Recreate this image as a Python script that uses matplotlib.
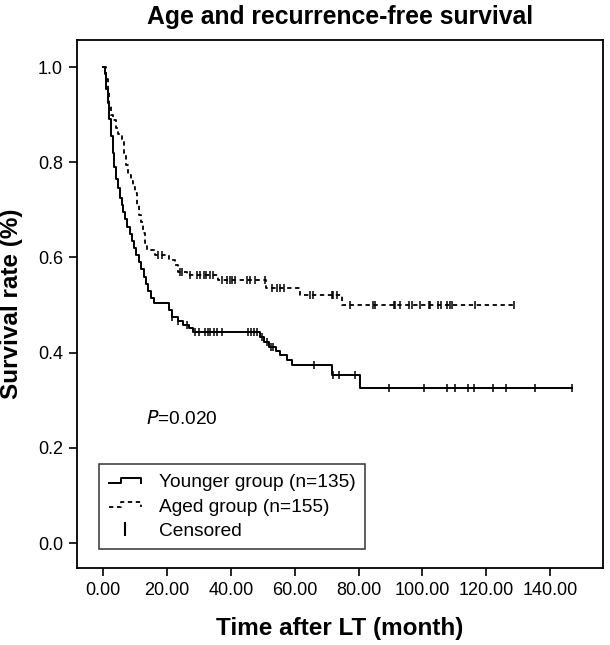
import numpy as np
import matplotlib
matplotlib.use("Agg")
import matplotlib.pyplot as plt
from matplotlib.lines import Line2D
from matplotlib.legend_handler import HandlerBase
from matplotlib.ticker import FormatStrFormatter

plt.rcParams['font.family'] = ['Liberation Sans', 'DejaVu Sans']

# Younger group (n=135): step times and survival after each step
young_t = [0, 0.5, 1.0, 1.5, 2.0, 2.5, 3.0, 3.5, 4.0, 4.6, 5.2, 5.8, 6.4, 7.0,
           7.6, 8.3, 9.0, 9.7, 10.4, 11.2, 12.0, 12.7, 13.4, 14.2, 15.0, 15.8,
           20.5, 21.5, 23.5, 25.0, 27.0, 28.3, 49.0, 50.5, 51.8, 54.0, 55.4,
           57.5, 59.1, 71.6, 80.5]
young_s = [1.0, 0.985, 0.955, 0.925, 0.89, 0.855, 0.82, 0.79, 0.765, 0.745,
           0.725, 0.71, 0.695, 0.68, 0.665, 0.65, 0.635, 0.62, 0.605, 0.59,
           0.575, 0.56, 0.545, 0.53, 0.515, 0.504, 0.489, 0.475, 0.467, 0.458,
           0.451, 0.444, 0.433, 0.422, 0.412, 0.404, 0.395, 0.385, 0.374,
           0.353, 0.325]
young_end = 146.8
young_cens = [21.5, 23.6, 26.2, 28.8, 29.9, 31.9, 32.7, 33.5, 34.8, 35.6, 37.2,
              45.5, 46.2, 47.3, 48.1, 49.7, 51.3, 52.5, 53.1, 65.9, 71.9, 74.0,
              78.9, 89.4, 100.4, 107.6, 110.2, 114.1, 116.0, 122.0, 126.2,
              135.1, 146.8]

# Aged group (n=155)
aged_t = [0, 0.8, 1.5, 2.0, 2.5, 3.2, 4.0, 4.8, 5.8, 6.5, 7.2, 7.9, 8.7, 9.5,
          10.0, 10.7, 11.3, 12.0, 12.6, 13.1, 13.7, 16.3, 20.5, 22.5, 23.6,
          26.2, 36.1, 50.9, 61.7, 74.7]
aged_s = [1.0, 0.975, 0.95, 0.92, 0.9, 0.889, 0.873, 0.86, 0.845, 0.82, 0.795,
          0.773, 0.76, 0.748, 0.735, 0.71, 0.69, 0.675, 0.652, 0.63, 0.616,
          0.605, 0.595, 0.584, 0.570, 0.563, 0.553, 0.535, 0.521, 0.5]
aged_end = 128.5
aged_cens = [17.3, 18.4, 24.1, 24.8, 27.3, 29.4, 30.4, 31.5, 32.2, 33.5, 34.3,
             37.2, 38.8, 39.6, 40.3, 41.4, 45.0, 46.1, 47.6, 50.7, 52.8, 54.4,
             55.4, 56.5, 64.8, 65.8, 71.6, 72.1, 73.2, 77.4, 84.4, 85.2, 91.0,
             91.5, 93.0, 95.9, 96.6, 99.3, 101.9, 102.4, 105.0, 105.7, 107.6,
             108.7, 109.2, 116.5, 128.5]

xticks = [0, 20, 40, 60, 80, 100, 120, 140]
yticks = [0.0, 0.2, 0.4, 0.6, 0.8, 1.0]


def surv_at(ts, ss, x):
    i = np.searchsorted(ts, x, side='right') - 1
    return np.array(ss)[i]


class StepHandler(HandlerBase):
    # little step glyph like the SPSS legend
    def create_artists(self, legend, orig_handle, xdescent, ydescent,
                       width, height, fontsize, trans):
        x0 = -xdescent
        ym = height / 2 - ydescent
        d = fontsize * 0.27
        xs = [x0, x0 + 0.38 * width, x0 + 0.38 * width, x0 + width, x0 + width]
        ys = [ym - d / 2, ym - d / 2, ym + d / 2, ym + d / 2, ym - d / 2]
        ln = Line2D(xs, ys, color='black', linestyle=orig_handle.get_linestyle(),
                    linewidth=orig_handle.get_linewidth())
        if orig_handle.get_linestyle() != '-':
            ln.set_dashes(ls_dash[1])
        ln.set_transform(trans)
        return [ln]


fig = plt.figure(figsize=(6.1, 6.45), dpi=100)
ax = fig.add_axes([0.126, 0.119, 0.863, 0.819])

ls_dash = (0, (2.4, 2.0))
for ts, ss, end, cens, ls, lw in [(young_t, young_s, young_end, young_cens, '-', 1.4),
                                  (aged_t, aged_s, aged_end, aged_cens, ls_dash, 1.3)]:
    ax.step(list(ts) + [end], list(ss) + [ss[-1]], where='post',
            color='black', linestyle=ls, linewidth=lw)
    ax.plot(cens, surv_at(ts, ss, cens), linestyle='none', marker='|',
            color='black', markersize=6, markeredgewidth=1.1)

ax.set_xlim(-8.2, 156.6)
ax.set_ylim(-0.053, 1.057)
ax.set_xticks(xticks)
ax.set_yticks(yticks)
ax.xaxis.set_major_formatter(FormatStrFormatter('%.2f'))
ax.yaxis.set_major_formatter(FormatStrFormatter('%.1f'))
ax.tick_params(axis='both', labelsize=13, length=6, width=1.2, direction='out', pad=4)
for sp in ax.spines.values():
    sp.set_linewidth(1.3)

ax.set_title('Age and recurrence-free survival', fontsize=17.8, fontweight='bold',
             y=1.0436, va='center', pad=0)
ax.set_xlabel('Time after LT (month)', fontsize=17.5, fontweight='bold', va='center')
ax.set_ylabel('Survival rate (%)', fontsize=17.5, fontweight='bold', va='center')
ax.xaxis.set_label_coords(0.5, -0.115)
ax.yaxis.set_label_coords(-0.125, 0.5)

ax.text(13.6, 0.26, r'$\it{P}$=0.020', fontsize=13.8, va='center', ha='left')

h_young = Line2D([], [], color='black', linestyle='-', linewidth=1.4)
h_aged = Line2D([], [], color='black', linestyle='--', linewidth=1.3)
h_cens = Line2D([], [], color='black', linestyle='none', marker='|',
                markersize=10, markeredgewidth=1.5)
labels = ['Younger group (n=135)', 'Aged group (n=155)', 'Censored']
leg = ax.legend([h_young, h_aged, h_cens], labels, loc='lower left',
                bbox_to_anchor=(0.042, 0.036), fontsize=13.8, frameon=True,
                fancybox=False, handlelength=1.67, borderaxespad=0,
                borderpad=0.5, labelspacing=0.35, handletextpad=0.94,
                handler_map={h_young: StepHandler(), h_aged: StepHandler()})
leg.get_frame().set_edgecolor('black')
leg.get_frame().set_linewidth(1.1)

fig.savefig('out.png', dpi=100)
